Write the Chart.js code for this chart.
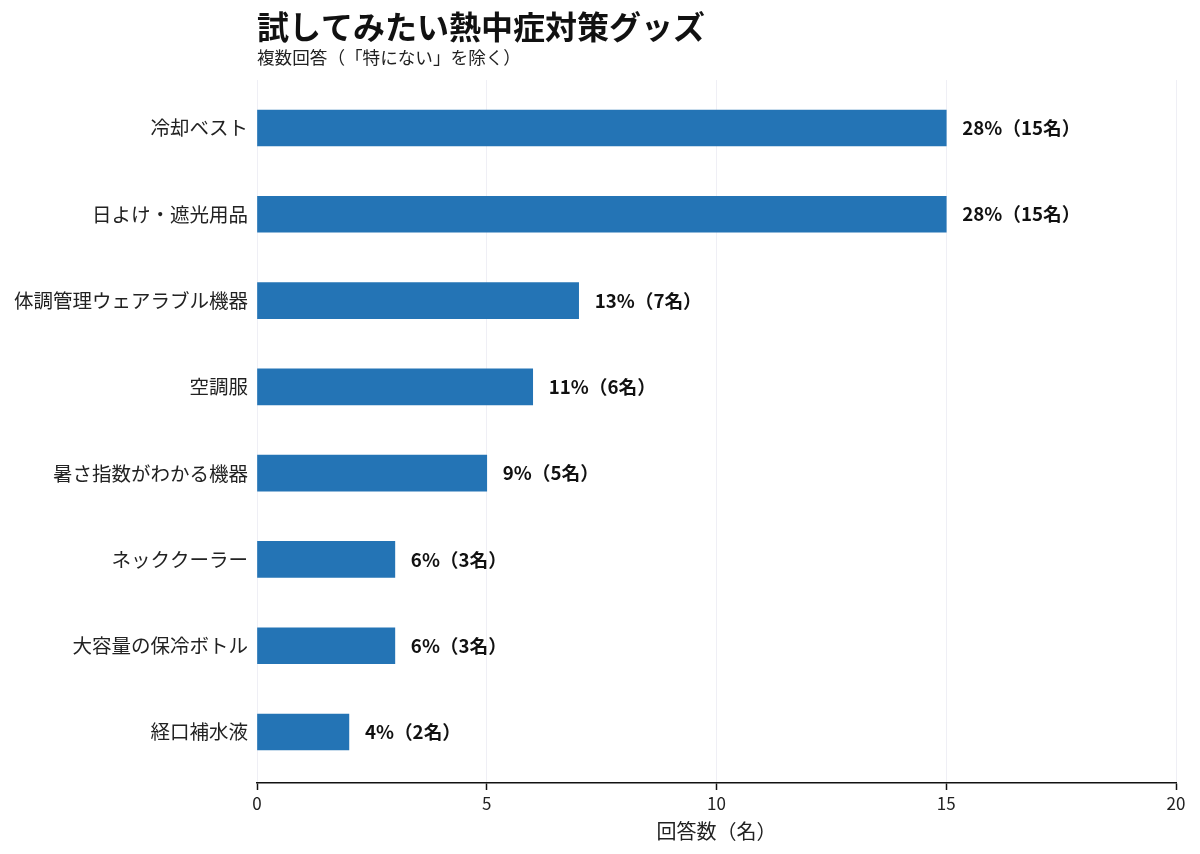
<!DOCTYPE html>
<html lang="ja"><head><meta charset="utf-8">
<script src="https://cdn.jsdelivr.net/npm/chart.js@4/dist/chart.umd.min.js"></script>
<style>html,body{margin:0;padding:0;background:#fff;text-spacing-trim:space-all}#wrap{width:1200px;height:854px}canvas{text-spacing-trim:space-all}</style>
</head><body><div id="wrap"><canvas id="c" width="1200" height="854"></canvas></div>
<script>
const categories = ["冷却ベスト","日よけ・遮光用品","体調管理ウェアラブル機器","空調服","暑さ指数がわかる機器","ネッククーラー","大容量の保冷ボトル","経口補水液"];
const counts = [15,15,7,6,5,3,3,2];
const percents = [28,28,13,11,9,6,6,4];
const xTicks = [0,5,10,15,20];
const titleText = "試してみたい熱中症対策グッズ";
const subtitleText = "複数回答（「特にない」を除く）";
const xTitle = "回答数（名）";

const FONT = "'Noto Sans CJK JP','Noto Sans',sans-serif";

const headerPlugin = {
  id: 'header',
  afterDraw(chart) {
    const ctx = chart.ctx, a = chart.chartArea;
    ctx.save();
    ctx.fillStyle = '#111';
    ctx.textAlign = 'left';
    ctx.textBaseline = 'middle';
    ctx.font = "bold 32px " + FONT;
    ctx.fillText(titleText, a.left, 27);
    ctx.font = "17.6px " + FONT;
    ctx.fillStyle = '#222';
    ctx.fillText(subtitleText, a.left, 57);
    ctx.restore();
  }
};

const valueLabels = {
  id: 'valueLabels',
  afterDatasetsDraw(chart) {
    const ctx = chart.ctx;
    const meta = chart.getDatasetMeta(0);
    ctx.save();
    ctx.fillStyle = '#111';
    ctx.font = "bold 18.7px " + FONT;
    ctx.textAlign = 'left';
    ctx.textBaseline = 'middle';
    meta.data.forEach((el, i) => {
      ctx.fillText(percents[i] + '%（' + counts[i] + '名）', el.x + 16, el.y);
    });
    ctx.restore();
  }
};

new Chart(document.getElementById('c'), {
  type: 'bar',
  data: {
    datasets: [{
      data: counts.map((v, i) => ({x: v, y: i})),
      backgroundColor: '#2474b5',
      borderWidth: 0,
      barThickness: 36
    }]
  },
  options: {
    indexAxis: 'y',
    responsive: false,
    animation: false,
    devicePixelRatio: 1,
    layout: {padding: {top: 80, right: 24, left: 0, bottom: 0}},
    plugins: {legend: {display: false}, tooltip: {enabled: false}, title: {display: false}},
    scales: {
      x: {
        type: 'linear',
        min: 0, max: 20,
        afterBuildTicks: s => { s.ticks = xTicks.map(v => ({value: v})); },
        afterFit: s => { s.height = 71; },
        grid: {color: '#efeff5', lineWidth: 1, drawTicks: true, tickLength: 7, tickColor: '#111', tickWidth: 1.5},
        border: {display: true, color: '#111', width: 1.5},
        ticks: {color: '#222', font: {family: FONT, size: 17}, padding: 3},
        title: {display: true, text: xTitle, color: '#222', font: {family: FONT, size: 20}, padding: {top: 2, bottom: 11}}
      },
      y: {
        type: 'linear',
        reverse: true,
        offset: false,
        min: -0.556, max: 7.591,
        afterBuildTicks: s => { s.ticks = categories.map((_, i) => ({value: i})); },
        afterFit: s => { s.width = 257; },
        grid: {display: false, drawTicks: false, offset: false},
        border: {display: false},
        ticks: {color: '#222', font: {family: FONT, size: 19.5}, padding: 9, callback: v => categories[v] ?? ''}
      }
    }
  },
  plugins: [headerPlugin, valueLabels]
});
</script></body></html>
